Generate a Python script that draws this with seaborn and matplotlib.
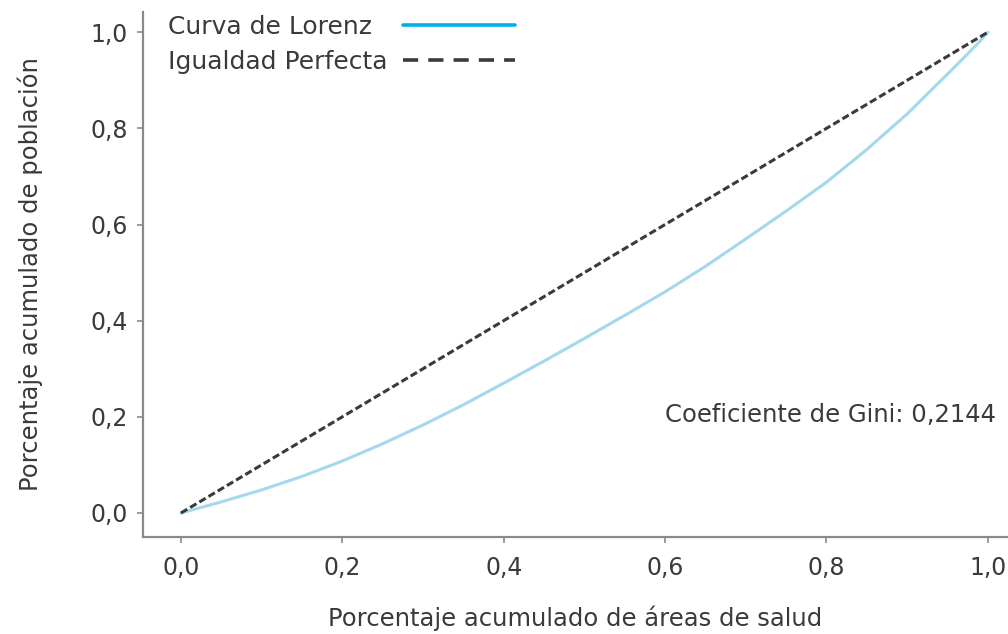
import matplotlib
matplotlib.use("Agg")
import matplotlib.pyplot as plt
from matplotlib.lines import Line2D
from matplotlib.ticker import FuncFormatter
import seaborn as sns
import pandas as pd

# Cumulative share of health areas (x) and of population (y)
areas_acum = [0.00, 0.05, 0.10, 0.15, 0.20, 0.25, 0.30, 0.35, 0.40, 0.45, 0.50,
              0.55, 0.60, 0.65, 0.70, 0.75, 0.80, 0.85, 0.90, 0.95, 0.975, 0.99, 1.00]
poblacion_acum = [0.000, 0.023, 0.048, 0.076, 0.108, 0.144, 0.183, 0.225, 0.270, 0.316, 0.363,
                  0.411, 0.460, 0.513, 0.570, 0.628, 0.688, 0.756, 0.830, 0.913, 0.955, 0.981, 1.000]
igualdad = [0.0, 1.0]
gini_texto = "Coeficiente de Gini: 0,2144"
leyenda = ["Curva de Lorenz", "Igualdad Perfecta"]
xticks = [0.0, 0.2, 0.4, 0.6, 0.8, 1.0]
yticks = [0.0, 0.2, 0.4, 0.6, 0.8, 1.0]

sns.set_theme(style="ticks")
plt.rcParams["font.family"] = ["DejaVu Sans"]

texto = "#3a3a3a"
eje = "#8a8a8a"
fs = 17

fig = plt.figure(figsize=(10.08, 6.34), dpi=100)
ax = fig.add_axes([0.1419, 0.153, 0.8581, 0.828])

df_lorenz = pd.DataFrame({"x": areas_acum, "y": poblacion_acum})
df_igual = pd.DataFrame({"x": igualdad, "y": igualdad})

sns.lineplot(data=df_lorenz, x="x", y="y", ax=ax, color="#a3d8ef", linewidth=2.2)
sns.lineplot(data=df_igual, x="x", y="y", ax=ax, color="#3a3a3a", linewidth=2.2)
ax.lines[-1].set_dashes([2.4, 1.1])

ax.set_xlim(-0.047, 1.025)
ax.set_ylim(-0.05, 1.042)
ax.set_xticks(xticks)
ax.set_yticks(yticks)
coma = FuncFormatter(lambda v, p: f"{v:.1f}".replace(".", ","))
ax.xaxis.set_major_formatter(coma)
ax.yaxis.set_major_formatter(coma)

sns.despine(ax=ax)
for s in ("left", "bottom"):
    ax.spines[s].set_color(eje)
    ax.spines[s].set_linewidth(1.6)
ax.tick_params(axis="both", colors=eje, labelcolor=texto, labelsize=fs,
               length=4, width=1.2)
ax.tick_params(axis="x", pad=10)
ax.tick_params(axis="y", pad=7)

ax.set_xlabel("Porcentaje acumulado de áreas de salud", fontsize=17.5, color=texto,
              labelpad=18)
ax.set_ylabel("Porcentaje acumulado de población", fontsize=17.5, color=texto,
              labelpad=34)

ax.text(0.6, 0.204, gini_texto, fontsize=17.5, color=texto, ha="left", va="center")

handles = [
    Line2D([], [], color="#00b0ee", linewidth=2.6),
    Line2D([], [], color="#3a3a3a", linewidth=2.6, linestyle=(0, (4.2, 2.8))),
]
leg = ax.legend(handles, leyenda, loc="upper left",
                bbox_to_anchor=(0.029, 0.995), frameon=False, markerfirst=False,
                fontsize=18, handlelength=4.5, handletextpad=0.6,
                labelspacing=0.45, borderaxespad=0.0, borderpad=0.0)
for t in leg.get_texts():
    t.set_color(texto)

# left-align the labels and line the legend keys up in one column
fig.canvas.draw()
columna = leg._legend_handle_box.get_children()[0]
columna.align = "left"
anchos = [t.get_window_extent().width for t in leg.get_texts()]
for fila, w in zip(columna.get_children(), anchos):
    fila.sep = fila.sep + (max(anchos) - w) * 72.0 / fig.dpi

fig.savefig("out.png", dpi=100)
